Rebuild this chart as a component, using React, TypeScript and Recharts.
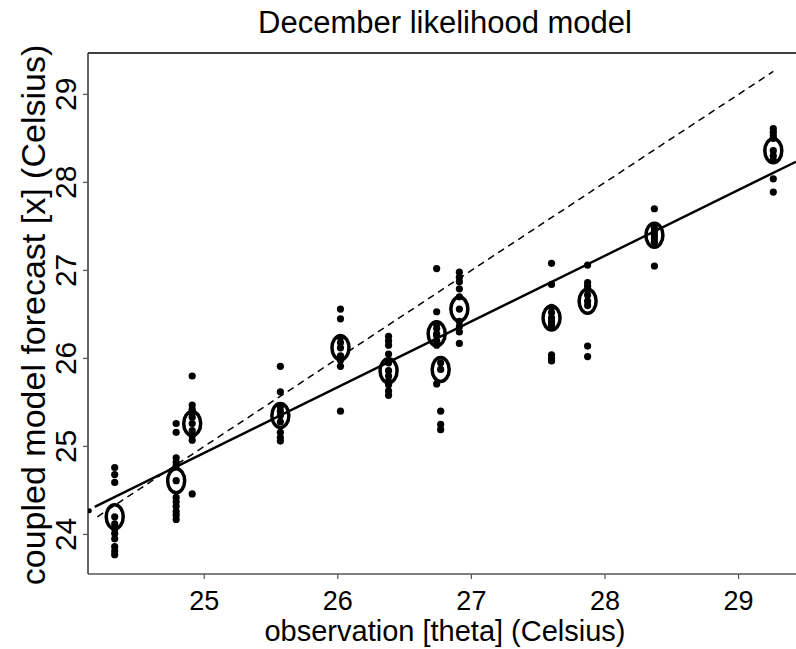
import {
  ScatterChart,
  Scatter,
  XAxis,
  YAxis,
  ReferenceLine,
} from "recharts";

// observation (theta) for each December, ensemble members and the likelihood-model mean
const observations = [24.33, 24.79, 24.91, 25.57, 26.02, 26.38, 26.74, 26.77, 26.91, 27.6, 27.87, 28.37, 29.26];
const members: number[][] = [
  [24.76, 24.68, 24.59, 24.12, 24.06, 24.01, 23.95, 23.86, 23.81, 23.77],
  [25.26, 25.16, 24.87, 24.82, 24.78, 24.42, 24.37, 24.32, 24.26, 24.22, 24.17],
  [25.8, 25.47, 25.42, 25.38, 25.33, 25.18, 25.12, 25.07, 24.46],
  [25.91, 25.62, 25.45, 25.4, 25.28, 25.16, 25.1, 25.06],
  [26.56, 26.45, 26.24, 26.18, 26.03, 25.98, 25.91, 25.4],
  [26.25, 26.2, 26.15, 26.05, 25.95, 25.8, 25.74, 25.7, 25.63, 25.58],
  [27.02, 26.53, 26.39, 26.34, 26.26, 26.2, 26.15, 25.71],
  [25.95, 25.4, 25.25, 25.19],
  [26.98, 26.92, 26.87, 26.79, 26.7, 26.42, 26.36, 26.3, 26.17],
  [27.08, 26.84, 26.58, 26.52, 26.42, 26.38, 26.04, 26.0, 25.97],
  [27.06, 26.86, 26.82, 26.78, 26.72, 26.6, 26.14, 26.02],
  [27.7, 27.48, 27.44, 27.36, 27.32, 27.05],
  [28.61, 28.57, 28.53, 28.5, 28.3, 28.25, 28.04, 27.89],
];
const means = [24.2, 24.61, 25.26, 25.35, 26.12, 25.86, 26.28, 25.875, 26.56, 26.46, 26.65, 27.4, 28.36];

// single point sitting on the left frame
const edgeObs = [24.14];
const edgeValue = [24.27];

// fitted line: y = regAt + regSlope * (x - regX0)
const regX0 = 25.267;
const regAt = 25.125;
const regSlope = 0.747;
const regRange = [24.18, 29.43];
const identityRange = [24.2, 29.26];

const xTicks = [25, 26, 27, 28, 29];
const yTicks = [24, 25, 26, 27, 28, 29];
const xDomain = [24.13, 29.43];
const yDomain = [23.55, 29.47];

const FONT = "'Liberation Sans', Arial, Helvetica, sans-serif";

const memberData = observations.flatMap((o, i) => members[i].map((v) => ({ x: o, y: v })));
const meanData = observations.map((o, i) => ({ x: o, y: means[i] }));
const edgeData = edgeObs.map((o, i) => ({ x: o, y: edgeValue[i] }));
const regY = (x: number) => regAt + regSlope * (x - regX0);

const Dot = (p: any) => <circle cx={p.cx} cy={p.cy} r={3.6} fill="#000" />;
const SmallDot = (p: any) => <circle cx={p.cx} cy={p.cy} r={2.5} fill="#000" />;
const Ring = (p: any) => (
  <g>
    <ellipse cx={p.cx} cy={p.cy} rx={8.5} ry={12} fill="none" stroke="#000" strokeWidth={3.5} />
    <circle cx={p.cx} cy={p.cy} r={3.6} fill="#000" />
  </g>
);

const XTick = (p: any) => (
  <text x={p.x} y={610} textAnchor="middle" fontSize={27} fontFamily={FONT} fill="#000">
    {p.payload.value}
  </text>
);

const YTick = (p: any) => (
  <text
    x={76}
    y={p.y}
    transform={`rotate(-90 76 ${p.y})`}
    textAnchor="middle"
    fontSize={30}
    fontFamily={FONT}
    fill="#000"
  >
    {p.payload.value}
  </text>
);

export default function App() {
  return (
    <div style={{ position: "absolute", left: 0, top: 0, width: 796, height: 649, background: "#fff" }}>
      <svg width={796} height={649} style={{ position: "absolute", left: 0, top: 0, pointerEvents: "none" }}>
        <text x={445} y={33} textAnchor="middle" fontSize={31} fontFamily={FONT} fill="#000">
          December likelihood model
        </text>
        <text x={445} y={641} textAnchor="middle" fontSize={29} fontFamily={FONT} fill="#000">
          observation [theta] (Celsius)
        </text>
        <text
          x={45}
          y={315}
          transform="rotate(-90 45 315)"
          textAnchor="middle"
          fontSize={34}
          fontFamily={FONT}
          fill="#000"
        >
          coupled model forecast [x] (Celsius)
        </text>
      </svg>
      <ScatterChart width={796} height={649} margin={{ top: 53, right: 0, left: 0, bottom: 0 }}>
        <XAxis
          type="number"
          dataKey="x"
          domain={xDomain}
          ticks={xTicks}
          allowDataOverflow
          height={75}
          axisLine={{ stroke: "#555", strokeWidth: 1.5 }}
          tickLine={{ stroke: "#555", strokeWidth: 1.2 }}
          tickSize={5}
          tick={<XTick />}
        />
        <YAxis
          type="number"
          dataKey="y"
          domain={yDomain}
          ticks={yTicks}
          allowDataOverflow
          width={88}
          axisLine={{ stroke: "#333", strokeWidth: 1.5 }}
          tickLine={{ stroke: "#555", strokeWidth: 1.2 }}
          tickSize={5}
          tick={<YTick />}
        />
        <ReferenceLine y={yDomain[1]} stroke="#000" strokeWidth={1.5} />
        <ReferenceLine
          segment={[
            { x: identityRange[0], y: identityRange[0] },
            { x: identityRange[1], y: identityRange[1] },
          ]}
          stroke="#000"
          strokeWidth={1.5}
          strokeDasharray="7 5"
        />
        <ReferenceLine
          segment={[
            { x: regRange[0], y: regY(regRange[0]) },
            { x: regRange[1], y: regY(regRange[1]) },
          ]}
          stroke="#000"
          strokeWidth={2.4}
        />
        <Scatter data={memberData} shape={<Dot />} isAnimationActive={false} />
        <Scatter data={meanData} shape={<Ring />} isAnimationActive={false} />
        <Scatter data={edgeData} shape={<SmallDot />} isAnimationActive={false} />
      </ScatterChart>
    </div>
  );
}
